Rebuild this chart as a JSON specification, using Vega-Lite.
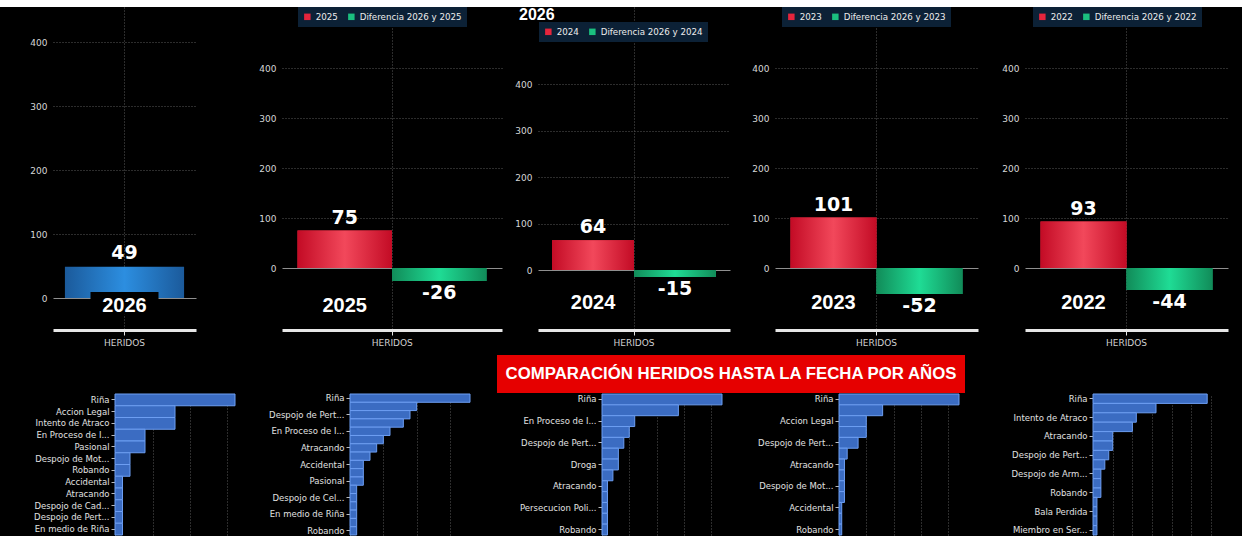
{
  "$schema": "https://vega.github.io/schema/vega-lite/v6.json",
  "background": "#000000",
  "padding": {"left": 0, "top": 0, "right": 0, "bottom": 0},
  "config": {
    "view": {"stroke": null},
    "font": "DejaVu Sans",
    "axis": {"labelFont": "DejaVu Sans", "labelFontSize": 9, "labelColor": "#d6d6d6", "gridColor": "#585858", "gridDash": [1, 2]},
    "legend": {"orient": "none", "direction": "horizontal", "fillColor": "#0c2136", "padding": 5, "labelColor": "#ececec", "labelFontSize": 8.7, "labelFont": "DejaVu Sans", "symbolType": "square", "symbolSize": 42, "symbolStrokeWidth": 0, "columnPadding": 9, "labelOffset": 4}
  },
  "datasets": {
    "p2026": [{"serie": "2026", "tipo": "anio", "valor": 49}],
    "p2025": [{"serie": "2025", "tipo": "anio", "valor": 75}, {"serie": "Diferencia 2026 y 2025", "tipo": "dif", "valor": -26}],
    "p2024": [{"serie": "2024", "tipo": "anio", "valor": 64}, {"serie": "Diferencia 2026 y 2024", "tipo": "dif", "valor": -15}],
    "p2023": [{"serie": "2023", "tipo": "anio", "valor": 101}, {"serie": "Diferencia 2026 y 2023", "tipo": "dif", "valor": -52}],
    "p2022": [{"serie": "2022", "tipo": "anio", "valor": 93}, {"serie": "Diferencia 2026 y 2022", "tipo": "dif", "valor": -44}],
    "b2026": [
      {"motivo": "Riña", "valor": 16}, {"motivo": "Accion Legal", "valor": 8}, {"motivo": "Intento de Atraco", "valor": 8},
      {"motivo": "En Proceso de I...", "valor": 4}, {"motivo": "Pasional", "valor": 4}, {"motivo": "Despojo de Mot...", "valor": 2},
      {"motivo": "Robando", "valor": 2}, {"motivo": "Accidental", "valor": 1}, {"motivo": "Atracando", "valor": 1},
      {"motivo": "Despojo de Cad...", "valor": 1}, {"motivo": "Despojo de Pert...", "valor": 1}, {"motivo": "En medio de Riña", "valor": 1}
    ],
    "b2025": [
      {"motivo": "Riña", "valor": 18}, {"motivo": "Intento de Atraco", "valor": 10}, {"motivo": "Despojo de Pert...", "valor": 9},
      {"motivo": "Accion Legal", "valor": 8}, {"motivo": "En Proceso de I...", "valor": 6}, {"motivo": "Despojo de Mot...", "valor": 5},
      {"motivo": "Atracando", "valor": 4}, {"motivo": "Droga", "valor": 3}, {"motivo": "Accidental", "valor": 2},
      {"motivo": "Bala Perdida", "valor": 2}, {"motivo": "Pasional", "valor": 2}, {"motivo": "Despojo de Arm...", "valor": 1},
      {"motivo": "Despojo de Cel...", "valor": 1}, {"motivo": "Persecucion Poli...", "valor": 1}, {"motivo": "En medio de Riña", "valor": 1},
      {"motivo": "Miembro en Ser...", "valor": 1}, {"motivo": "Robando", "valor": 1}
    ],
    "b2024": [
      {"motivo": "Riña", "valor": 22}, {"motivo": "Intento de Atraco", "valor": 14}, {"motivo": "En Proceso de I...", "valor": 6},
      {"motivo": "Accion Legal", "valor": 5}, {"motivo": "Despojo de Pert...", "valor": 4}, {"motivo": "Pasional", "valor": 3},
      {"motivo": "Droga", "valor": 3}, {"motivo": "Accidental", "valor": 2}, {"motivo": "Atracando", "valor": 1},
      {"motivo": "Despojo de Mot...", "valor": 1}, {"motivo": "Persecucion Poli...", "valor": 1}, {"motivo": "Bala Perdida", "valor": 1},
      {"motivo": "Robando", "valor": 1}
    ],
    "b2023": [
      {"motivo": "Riña", "valor": 44}, {"motivo": "Intento de Atraco", "valor": 16}, {"motivo": "Accion Legal", "valor": 10},
      {"motivo": "En Proceso de I...", "valor": 10}, {"motivo": "Despojo de Pert...", "valor": 7}, {"motivo": "Pasional", "valor": 3},
      {"motivo": "Atracando", "valor": 2}, {"motivo": "Droga", "valor": 2}, {"motivo": "Despojo de Mot...", "valor": 2},
      {"motivo": "Despojo de Cel...", "valor": 2}, {"motivo": "Accidental", "valor": 1}, {"motivo": "Bala Perdida", "valor": 1},
      {"motivo": "Robando", "valor": 1}
    ],
    "b2022": [
      {"motivo": "Riña", "valor": 29}, {"motivo": "Accion Legal", "valor": 16}, {"motivo": "Intento de Atraco", "valor": 11},
      {"motivo": "En Proceso de I...", "valor": 10}, {"motivo": "Atracando", "valor": 5}, {"motivo": "Pasional", "valor": 5},
      {"motivo": "Despojo de Pert...", "valor": 4}, {"motivo": "Accidental", "valor": 3}, {"motivo": "Despojo de Arm...", "valor": 2},
      {"motivo": "Despojo de Mot...", "valor": 2}, {"motivo": "Robando", "valor": 2}, {"motivo": "Despojo de Cel...", "valor": 1},
      {"motivo": "Bala Perdida", "valor": 1}, {"motivo": "En medio de Riña", "valor": 1}, {"motivo": "Miembro en Ser...", "valor": 1}
    ]
  },
  "spacing": 0,
  "vconcat": [
    {"width": 1242, "height": 7, "view": {"fill": "#ffffff", "stroke": null}, "data": {"values": [{"t": ""}]}, "mark": {"type": "text", "fontSize": 1}, "encoding": {"text": {"field": "t", "type": "nominal"}}},
    {
      "spacing": 0,
      "resolve": {"scale": {"x": "independent", "y": "independent", "color": "independent"}, "legend": {"color": "independent"}},
      "hconcat": [
        {"width": 1, "height": 323, "data": {"values": [{"t": ""}]}, "mark": {"type": "text", "fontSize": 1}, "encoding": {"text": {"field": "t", "type": "nominal"}}},
        {
          "width": 143, "height": 323,
          "data": {"name": "p2026"},
          "encoding": {
            "x": {"field": "serie", "type": "nominal", "sort": null, "title": null, "scale": {"domain": ["2026"], "paddingInner": 0, "paddingOuter": 0.1},
              "axis": {"labelExpr": "'HERIDOS'", "labelAngle": 0, "labelColor": "#d0d0d0", "labelPadding": 3, "domainColor": "#e6e6e6", "domainWidth": 3, "tickColor": "#e6e6e6", "tickSize": 5, "grid": true, "minExtent": 25, "maxExtent": 25}},
            "y": {"field": "valor", "type": "quantitative", "title": null, "scale": {"domain": [-50, 455], "nice": false, "zero": false},
              "axis": {"values": [0, 100, 200, 300, 400], "domain": false, "ticks": false, "labelPadding": 6, "grid": true,
                "gridColor": {"condition": {"test": "datum.value === 0", "value": "#8f8f8f"}, "value": "#585858"},
                "gridDash": {"condition": {"test": "datum.value === 0", "value": []}, "value": [1, 2]},
                "minExtent": 52, "maxExtent": 52}}
          },
          "layer": [
            {"mark": {"type": "bar", "fill": {"gradient": "linear", "x1": 0, "y1": 0, "x2": 1, "y2": 0, "stops": [{"offset": 0, "color": "#1b5a9b"}, {"offset": 0.5, "color": "#2c8ee0"}, {"offset": 1, "color": "#1b5a9b"}]}}},
            {"mark": {"type": "bar", "width": 68, "fill": "#000000"},
              "encoding": {"y": {"datum": 9.5, "type": "quantitative", "title": null, "scale": {"domain": [-50, 455], "nice": false, "zero": false},
                "axis": {"values": [0, 100, 200, 300, 400], "domain": false, "ticks": false, "labelPadding": 6, "grid": true,
                  "gridColor": {"condition": {"test": "datum.value === 0", "value": "#8f8f8f"}, "value": "#585858"},
                  "gridDash": {"condition": {"test": "datum.value === 0", "value": []}, "value": [1, 2]},
                  "minExtent": 52, "maxExtent": 52}}, "y2": {"datum": -26}}},
            {"mark": {"type": "text", "dy": -14, "baseline": "middle", "fontSize": 19, "fontWeight": "bold", "font": "DejaVu Sans", "color": "#ffffff"},
              "encoding": {"text": {"field": "valor", "type": "nominal"}}},
            {"mark": {"type": "text", "dy": 8, "baseline": "middle", "fontSize": 20, "fontWeight": "bold", "font": "Liberation Sans", "color": "#ffffff"},
              "encoding": {"y": {"datum": 0, "type": "quantitative", "title": null, "scale": {"domain": [-50, 455], "nice": false, "zero": false},
                "axis": {"values": [0, 100, 200, 300, 400], "domain": false, "ticks": false, "labelPadding": 6, "grid": true,
                  "gridColor": {"condition": {"test": "datum.value === 0", "value": "#8f8f8f"}, "value": "#585858"},
                  "gridDash": {"condition": {"test": "datum.value === 0", "value": []}, "value": [1, 2]},
                  "minExtent": 52, "maxExtent": 52}}, "text": {"field": "serie", "type": "nominal"}}}
          ]
        },
        {
          "width": 220, "height": 323,
          "data": {"name": "p2025"},
          "encoding": {
            "x": {"field": "serie", "type": "nominal", "sort": null, "title": null, "scale": {"domain": ["2025", "Diferencia 2026 y 2025"], "paddingInner": 0, "paddingOuter": 0.164},
              "axis": {"values": ["Diferencia 2026 y 2025"], "bandPosition": 0, "labelOffset": -47, "labelExpr": "'HERIDOS'", "labelAngle": 0, "labelColor": "#d0d0d0", "labelPadding": 3, "domainColor": "#e6e6e6", "domainWidth": 3, "tickColor": "#e6e6e6", "tickSize": 5, "grid": true, "minExtent": 25, "maxExtent": 25}},
            "y": {"field": "valor", "type": "quantitative", "title": null, "scale": {"domain": [-124, 522], "nice": false, "zero": false},
              "axis": {"values": [0, 100, 200, 300, 400], "domain": false, "ticks": false, "labelPadding": 6, "grid": true,
                "gridColor": {"condition": {"test": "datum.value === 0", "value": "#8f8f8f"}, "value": "#585858"},
                "gridDash": {"condition": {"test": "datum.value === 0", "value": []}, "value": [1, 2]},
                "minExtent": 86, "maxExtent": 86}}
          },
          "layer": [
            {"mark": {"type": "bar"}, "encoding": {"color": {"field": "serie", "type": "nominal", "sort": null, "scale": {"domain": ["2025", "Diferencia 2026 y 2025"], "range": ["#e5253c", "#1bbf7f"]}, "legend": {"title": null, "orient": "none", "legendX": 16, "legendY": 0}}}},
            {"transform": [{"filter": "datum.tipo == 'anio'"}], "mark": {"type": "bar", "fill": {"gradient": "linear", "x1": 0, "y1": 0, "x2": 1, "y2": 0, "stops": [{"offset": 0, "color": "#c30b25"}, {"offset": 0.5, "color": "#f2485b"}, {"offset": 1, "color": "#c30b25"}]}}},
            {"transform": [{"filter": "datum.tipo == 'dif'"}], "mark": {"type": "bar", "fill": {"gradient": "linear", "x1": 0, "y1": 0, "x2": 1, "y2": 0, "stops": [{"offset": 0, "color": "#118c59"}, {"offset": 0.5, "color": "#1fdc95"}, {"offset": 1, "color": "#118c59"}]}}},
            {"transform": [{"filter": "datum.valor >= 0"}], "mark": {"type": "text", "dy": -13, "baseline": "middle", "fontSize": 19, "fontWeight": "bold", "font": "DejaVu Sans", "color": "#ffffff"}, "encoding": {"text": {"field": "valor", "type": "nominal"}}},
            {"transform": [{"filter": "datum.valor < 0"}], "mark": {"type": "text", "dy": 12, "baseline": "middle", "fontSize": 19, "fontWeight": "bold", "font": "DejaVu Sans", "color": "#ffffff"}, "encoding": {"text": {"field": "valor", "type": "nominal"}}},
            {"transform": [{"filter": "datum.tipo == 'anio'"}], "mark": {"type": "text", "dy": 38, "baseline": "middle", "fontSize": 20, "fontWeight": "bold", "font": "Liberation Sans", "color": "#ffffff"},
              "encoding": {"y": {"datum": 0, "type": "quantitative", "title": null, "scale": {"domain": [-124, 522], "nice": false, "zero": false},
                "axis": {"values": [0, 100, 200, 300, 400], "domain": false, "ticks": false, "labelPadding": 6, "grid": true,
                  "gridColor": {"condition": {"test": "datum.value === 0", "value": "#8f8f8f"}, "value": "#585858"},
                  "gridDash": {"condition": {"test": "datum.value === 0", "value": []}, "value": [1, 2]},
                  "minExtent": 86, "maxExtent": 86}}, "text": {"field": "serie", "type": "nominal"}}}
          ]
        },
        {
          "width": 192, "height": 323,
          "data": {"name": "p2024"},
          "encoding": {
            "x": {"field": "serie", "type": "nominal", "sort": null, "title": null, "scale": {"domain": ["2024", "Diferencia 2026 y 2024"], "paddingInner": 0, "paddingOuter": 0.171},
              "axis": {"values": ["Diferencia 2026 y 2024"], "bandPosition": 0, "labelOffset": -41, "labelExpr": "'HERIDOS'", "labelAngle": 0, "labelColor": "#d0d0d0", "labelPadding": 3, "domainColor": "#e6e6e6", "domainWidth": 3, "tickColor": "#e6e6e6", "tickSize": 5, "grid": true, "minExtent": 25, "maxExtent": 25}},
            "y": {"field": "valor", "type": "quantitative", "title": null, "scale": {"domain": [-129, 565.6], "nice": false, "zero": false},
              "axis": {"values": [0, 100, 200, 300, 400], "domain": false, "ticks": false, "labelPadding": 6, "grid": true,
                "gridColor": {"condition": {"test": "datum.value === 0", "value": "#8f8f8f"}, "value": "#585858"},
                "gridDash": {"condition": {"test": "datum.value === 0", "value": []}, "value": [1, 2]},
                "minExtent": 36, "maxExtent": 36}}
          },
          "layer": [
            {"mark": {"type": "bar"}, "encoding": {"color": {"field": "serie", "type": "nominal", "sort": null, "scale": {"domain": ["2024", "Diferencia 2026 y 2024"], "range": ["#e5253c", "#1bbf7f"]}, "legend": {"title": null, "orient": "none", "legendX": 1, "legendY": 15}}}},
            {"transform": [{"filter": "datum.tipo == 'anio'"}], "mark": {"type": "bar", "fill": {"gradient": "linear", "x1": 0, "y1": 0, "x2": 1, "y2": 0, "stops": [{"offset": 0, "color": "#c30b25"}, {"offset": 0.5, "color": "#f2485b"}, {"offset": 1, "color": "#c30b25"}]}}},
            {"transform": [{"filter": "datum.tipo == 'dif'"}], "mark": {"type": "bar", "fill": {"gradient": "linear", "x1": 0, "y1": 0, "x2": 1, "y2": 0, "stops": [{"offset": 0, "color": "#118c59"}, {"offset": 0.5, "color": "#1fdc95"}, {"offset": 1, "color": "#118c59"}]}}},
            {"transform": [{"filter": "datum.valor >= 0"}], "mark": {"type": "text", "dy": -13, "baseline": "middle", "fontSize": 19, "fontWeight": "bold", "font": "DejaVu Sans", "color": "#ffffff"}, "encoding": {"text": {"field": "valor", "type": "nominal"}}},
            {"transform": [{"filter": "datum.valor < 0"}], "mark": {"type": "text", "dy": 12, "baseline": "middle", "fontSize": 19, "fontWeight": "bold", "font": "DejaVu Sans", "color": "#ffffff"}, "encoding": {"text": {"field": "valor", "type": "nominal"}}},
            {"transform": [{"filter": "datum.tipo == 'anio'"}], "mark": {"type": "text", "dy": 33, "baseline": "middle", "fontSize": 20, "fontWeight": "bold", "font": "Liberation Sans", "color": "#ffffff"},
              "encoding": {"y": {"datum": 0, "type": "quantitative", "title": null, "scale": {"domain": [-129, 565.6], "nice": false, "zero": false},
                "axis": {"values": [0, 100, 200, 300, 400], "domain": false, "ticks": false, "labelPadding": 6, "grid": true,
                  "gridColor": {"condition": {"test": "datum.value === 0", "value": "#8f8f8f"}, "value": "#585858"},
                  "gridDash": {"condition": {"test": "datum.value === 0", "value": []}, "value": [1, 2]},
                  "minExtent": 36, "maxExtent": 36}}, "text": {"field": "serie", "type": "nominal"}}},
            {"transform": [{"filter": "datum.tipo == 'anio'"}], "mark": {"type": "text", "text": "2026", "align": "left", "dx": -74, "baseline": "top", "fontSize": 16, "fontWeight": "bold", "font": "Liberation Sans", "color": "#ffffff"},
              "encoding": {"y": {"datum": 565.6, "type": "quantitative", "title": null, "scale": {"domain": [-129, 565.6], "nice": false, "zero": false},
                "axis": {"values": [0, 100, 200, 300, 400], "domain": false, "ticks": false, "labelPadding": 6, "grid": true,
                  "gridColor": {"condition": {"test": "datum.value === 0", "value": "#8f8f8f"}, "value": "#585858"},
                  "gridDash": {"condition": {"test": "datum.value === 0", "value": []}, "value": [1, 2]},
                  "minExtent": 36, "maxExtent": 36}}}}
          ]
        },
        {
          "width": 203, "height": 323,
          "data": {"name": "p2023"},
          "encoding": {
            "x": {"field": "serie", "type": "nominal", "sort": null, "title": null, "scale": {"domain": ["2023", "Diferencia 2026 y 2023"], "paddingInner": 0, "paddingOuter": 0.18},
              "axis": {"values": ["Diferencia 2026 y 2023"], "bandPosition": 0, "labelOffset": -43, "labelExpr": "'HERIDOS'", "labelAngle": 0, "labelColor": "#d0d0d0", "labelPadding": 3, "domainColor": "#e6e6e6", "domainWidth": 3, "tickColor": "#e6e6e6", "tickSize": 5, "grid": true, "minExtent": 25, "maxExtent": 25}},
            "y": {"field": "valor", "type": "quantitative", "title": null, "scale": {"domain": [-124, 522], "nice": false, "zero": false},
              "axis": {"values": [0, 100, 200, 300, 400], "domain": false, "ticks": false, "labelPadding": 6, "grid": true,
                "gridColor": {"condition": {"test": "datum.value === 0", "value": "#8f8f8f"}, "value": "#585858"},
                "gridDash": {"condition": {"test": "datum.value === 0", "value": []}, "value": [1, 2]},
                "minExtent": 45, "maxExtent": 45}}
          },
          "layer": [
            {"mark": {"type": "bar"}, "encoding": {"color": {"field": "serie", "type": "nominal", "sort": null, "scale": {"domain": ["2023", "Diferencia 2026 y 2023"], "range": ["#e5253c", "#1bbf7f"]}, "legend": {"title": null, "orient": "none", "legendX": 7, "legendY": 0}}}},
            {"transform": [{"filter": "datum.tipo == 'anio'"}], "mark": {"type": "bar", "fill": {"gradient": "linear", "x1": 0, "y1": 0, "x2": 1, "y2": 0, "stops": [{"offset": 0, "color": "#c30b25"}, {"offset": 0.5, "color": "#f2485b"}, {"offset": 1, "color": "#c30b25"}]}}},
            {"transform": [{"filter": "datum.tipo == 'dif'"}], "mark": {"type": "bar", "fill": {"gradient": "linear", "x1": 0, "y1": 0, "x2": 1, "y2": 0, "stops": [{"offset": 0, "color": "#118c59"}, {"offset": 0.5, "color": "#1fdc95"}, {"offset": 1, "color": "#118c59"}]}}},
            {"transform": [{"filter": "datum.valor >= 0"}], "mark": {"type": "text", "dy": -13, "baseline": "middle", "fontSize": 19, "fontWeight": "bold", "font": "DejaVu Sans", "color": "#ffffff"}, "encoding": {"text": {"field": "valor", "type": "nominal"}}},
            {"transform": [{"filter": "datum.valor < 0"}], "mark": {"type": "text", "dy": 12, "baseline": "middle", "fontSize": 19, "fontWeight": "bold", "font": "DejaVu Sans", "color": "#ffffff"}, "encoding": {"text": {"field": "valor", "type": "nominal"}}},
            {"transform": [{"filter": "datum.tipo == 'anio'"}], "mark": {"type": "text", "dy": 35, "baseline": "middle", "fontSize": 20, "fontWeight": "bold", "font": "Liberation Sans", "color": "#ffffff"},
              "encoding": {"y": {"datum": 0, "type": "quantitative", "title": null, "scale": {"domain": [-124, 522], "nice": false, "zero": false},
                "axis": {"values": [0, 100, 200, 300, 400], "domain": false, "ticks": false, "labelPadding": 6, "grid": true,
                  "gridColor": {"condition": {"test": "datum.value === 0", "value": "#8f8f8f"}, "value": "#585858"},
                  "gridDash": {"condition": {"test": "datum.value === 0", "value": []}, "value": [1, 2]},
                  "minExtent": 45, "maxExtent": 45}}, "text": {"field": "serie", "type": "nominal"}}}
          ]
        },
        {
          "width": 203, "height": 323,
          "data": {"name": "p2022"},
          "encoding": {
            "x": {"field": "serie", "type": "nominal", "sort": null, "title": null, "scale": {"domain": ["2022", "Diferencia 2026 y 2022"], "paddingInner": 0, "paddingOuter": 0.18},
              "axis": {"values": ["Diferencia 2026 y 2022"], "bandPosition": 0, "labelOffset": -43, "labelExpr": "'HERIDOS'", "labelAngle": 0, "labelColor": "#d0d0d0", "labelPadding": 3, "domainColor": "#e6e6e6", "domainWidth": 3, "tickColor": "#e6e6e6", "tickSize": 5, "grid": true, "minExtent": 25, "maxExtent": 25}},
            "y": {"field": "valor", "type": "quantitative", "title": null, "scale": {"domain": [-124, 522], "nice": false, "zero": false},
              "axis": {"values": [0, 100, 200, 300, 400], "domain": false, "ticks": false, "labelPadding": 6, "grid": true,
                "gridColor": {"condition": {"test": "datum.value === 0", "value": "#8f8f8f"}, "value": "#585858"},
                "gridDash": {"condition": {"test": "datum.value === 0", "value": []}, "value": [1, 2]},
                "minExtent": 47, "maxExtent": 47}}
          },
          "layer": [
            {"mark": {"type": "bar"}, "encoding": {"color": {"field": "serie", "type": "nominal", "sort": null, "scale": {"domain": ["2022", "Diferencia 2026 y 2022"], "range": ["#e5253c", "#1bbf7f"]}, "legend": {"title": null, "orient": "none", "legendX": 8, "legendY": 0}}}},
            {"transform": [{"filter": "datum.tipo == 'anio'"}], "mark": {"type": "bar", "fill": {"gradient": "linear", "x1": 0, "y1": 0, "x2": 1, "y2": 0, "stops": [{"offset": 0, "color": "#c30b25"}, {"offset": 0.5, "color": "#f2485b"}, {"offset": 1, "color": "#c30b25"}]}}},
            {"transform": [{"filter": "datum.tipo == 'dif'"}], "mark": {"type": "bar", "fill": {"gradient": "linear", "x1": 0, "y1": 0, "x2": 1, "y2": 0, "stops": [{"offset": 0, "color": "#118c59"}, {"offset": 0.5, "color": "#1fdc95"}, {"offset": 1, "color": "#118c59"}]}}},
            {"transform": [{"filter": "datum.valor >= 0"}], "mark": {"type": "text", "dy": -13, "baseline": "middle", "fontSize": 19, "fontWeight": "bold", "font": "DejaVu Sans", "color": "#ffffff"}, "encoding": {"text": {"field": "valor", "type": "nominal"}}},
            {"transform": [{"filter": "datum.valor < 0"}], "mark": {"type": "text", "dy": 12, "baseline": "middle", "fontSize": 19, "fontWeight": "bold", "font": "DejaVu Sans", "color": "#ffffff"}, "encoding": {"text": {"field": "valor", "type": "nominal"}}},
            {"transform": [{"filter": "datum.tipo == 'anio'"}], "mark": {"type": "text", "dy": 35, "baseline": "middle", "fontSize": 20, "fontWeight": "bold", "font": "Liberation Sans", "color": "#ffffff"},
              "encoding": {"y": {"datum": 0, "type": "quantitative", "title": null, "scale": {"domain": [-124, 522], "nice": false, "zero": false},
                "axis": {"values": [0, 100, 200, 300, 400], "domain": false, "ticks": false, "labelPadding": 6, "grid": true,
                  "gridColor": {"condition": {"test": "datum.value === 0", "value": "#8f8f8f"}, "value": "#585858"},
                  "gridDash": {"condition": {"test": "datum.value === 0", "value": []}, "value": [1, 2]},
                  "minExtent": 47, "maxExtent": 47}}, "text": {"field": "serie", "type": "nominal"}}}
          ]
        }
      ]
    },
    {
      "spacing": 0,
      "hconcat": [
        {"width": 497, "height": 38, "data": {"values": [{"t": ""}]}, "mark": {"type": "text", "fontSize": 1}, "encoding": {"text": {"field": "t", "type": "nominal"}}},
        {"width": 468, "height": 38, "view": {"fill": "#e60000", "stroke": null},
          "data": {"values": [{"t": "COMPARACIÓN HERIDOS HASTA LA FECHA POR AÑOS"}]},
          "mark": {"type": "text", "font": "Liberation Sans", "fontWeight": "bold", "fontSize": 16.8, "color": "#ffffff", "baseline": "middle", "align": "center"},
          "encoding": {"text": {"field": "t", "type": "nominal"}}}
      ]
    },
    {
      "spacing": 0,
      "resolve": {"scale": {"x": "independent", "y": "independent"}},
      "hconcat": [
        {"width": 1, "height": 141, "data": {"values": [{"t": ""}]}, "mark": {"type": "text", "fontSize": 1}, "encoding": {"text": {"field": "t", "type": "nominal"}}},
        {
          "width": 126, "height": 141,
          "data": {"name": "b2026"},
          "mark": {"type": "bar", "fill": "#3b6cc2", "stroke": "#6d9ef2", "strokeWidth": 1},
          "encoding": {
            "y": {"field": "motivo", "type": "nominal", "sort": null, "title": null, "scale": {"paddingInner": 0, "paddingOuter": 0},
              "axis": {"labelColor": "#e0e0e0", "labelFontSize": 8.5, "tickColor": "#bbbbbb", "tickSize": 4, "domainColor": "#888888", "labelPadding": 2, "labelOverlap": false, "labelLimit": 200, "minExtent": 114, "maxExtent": 114}},
            "x": {"field": "valor", "type": "quantitative", "title": null, "scale": {"domain": [0, 16.8], "nice": false},
              "axis": {"labels": false, "ticks": false, "domain": false, "grid": true, "values": [5, 10, 15], "minExtent": 0, "maxExtent": 0}}
          }
        },
        {
          "width": 126, "height": 141,
          "data": {"name": "b2025"},
          "mark": {"type": "bar", "fill": "#3b6cc2", "stroke": "#6d9ef2", "strokeWidth": 1},
          "encoding": {
            "y": {"field": "motivo", "type": "nominal", "sort": null, "title": null, "scale": {"paddingInner": 0, "paddingOuter": 0},
              "axis": {"values": ["Riña", "Despojo de Pert...", "En Proceso de I...", "Atracando", "Accidental", "Pasional", "Despojo de Cel...", "En medio de Riña", "Robando"],
                "labelColor": "#e0e0e0", "labelFontSize": 8.5, "tickColor": "#bbbbbb", "tickSize": 4, "domainColor": "#888888", "labelPadding": 2, "labelOverlap": false, "labelLimit": 200, "minExtent": 109, "maxExtent": 109}},
            "x": {"field": "valor", "type": "quantitative", "title": null, "scale": {"domain": [0, 18.9], "nice": false},
              "axis": {"labels": false, "ticks": false, "domain": false, "grid": true, "values": [5, 10, 15], "minExtent": 0, "maxExtent": 0}}
          }
        },
        {
          "width": 126, "height": 141,
          "data": {"name": "b2024"},
          "mark": {"type": "bar", "fill": "#3b6cc2", "stroke": "#6d9ef2", "strokeWidth": 1},
          "encoding": {
            "y": {"field": "motivo", "type": "nominal", "sort": null, "title": null, "scale": {"paddingInner": 0, "paddingOuter": 0},
              "axis": {"values": ["Riña", "En Proceso de I...", "Despojo de Pert...", "Droga", "Atracando", "Persecucion Poli...", "Robando"],
                "labelColor": "#e0e0e0", "labelFontSize": 8.5, "tickColor": "#bbbbbb", "tickSize": 4, "domainColor": "#888888", "labelPadding": 2, "labelOverlap": false, "labelLimit": 200, "minExtent": 126, "maxExtent": 126}},
            "x": {"field": "valor", "type": "quantitative", "title": null, "scale": {"domain": [0, 23.1], "nice": false},
              "axis": {"labels": false, "ticks": false, "domain": false, "grid": true, "values": [5, 10, 15, 20], "minExtent": 0, "maxExtent": 0}}
          }
        },
        {
          "width": 126, "height": 141,
          "data": {"name": "b2023"},
          "mark": {"type": "bar", "fill": "#3b6cc2", "stroke": "#6d9ef2", "strokeWidth": 1},
          "encoding": {
            "y": {"field": "motivo", "type": "nominal", "sort": null, "title": null, "scale": {"paddingInner": 0, "paddingOuter": 0},
              "axis": {"values": ["Riña", "Accion Legal", "Despojo de Pert...", "Atracando", "Despojo de Mot...", "Accidental", "Robando"],
                "labelColor": "#e0e0e0", "labelFontSize": 8.5, "tickColor": "#bbbbbb", "tickSize": 4, "domainColor": "#888888", "labelPadding": 2, "labelOverlap": false, "labelLimit": 200, "minExtent": 111, "maxExtent": 111}},
            "x": {"field": "valor", "type": "quantitative", "title": null, "scale": {"domain": [0, 46.2], "nice": false},
              "axis": {"labels": false, "ticks": false, "domain": false, "grid": true, "values": [10, 20, 30, 40], "minExtent": 0, "maxExtent": 0}}
          }
        },
        {
          "width": 126, "height": 141,
          "data": {"name": "b2022"},
          "mark": {"type": "bar", "fill": "#3b6cc2", "stroke": "#6d9ef2", "strokeWidth": 1},
          "encoding": {
            "y": {"field": "motivo", "type": "nominal", "sort": null, "title": null, "scale": {"paddingInner": 0, "paddingOuter": 0},
              "axis": {"values": ["Riña", "Intento de Atraco", "Atracando", "Despojo de Pert...", "Despojo de Arm...", "Robando", "Bala Perdida", "Miembro en Ser..."],
                "labelColor": "#e0e0e0", "labelFontSize": 8.5, "tickColor": "#bbbbbb", "tickSize": 4, "domainColor": "#888888", "labelPadding": 2, "labelOverlap": false, "labelLimit": 200, "minExtent": 128, "maxExtent": 128}},
            "x": {"field": "valor", "type": "quantitative", "title": null, "scale": {"domain": [0, 32], "nice": false},
              "axis": {"labels": false, "ticks": false, "domain": false, "grid": true, "values": [5, 10, 15, 20, 25, 30], "minExtent": 0, "maxExtent": 0}}
          }
        }
      ]
    }
  ]
}
